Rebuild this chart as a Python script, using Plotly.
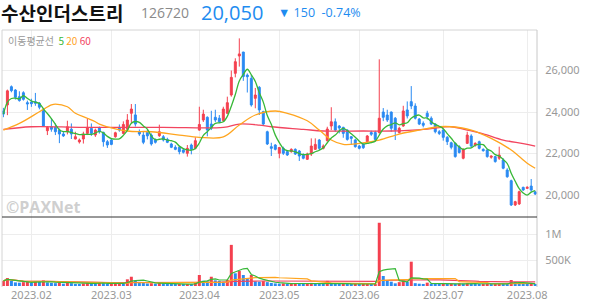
import plotly.graph_objects as go
from plotly.subplots import make_subplots
import pandas as pd

# ---------------- data ----------------
month_labels = ["2023.02", "2023.03", "2023.04", "2023.05", "2023.06", "2023.07", "2023.08"]
month_start_idx = [7, 27, 49, 69, 89, 110, 131]

opens = [24050, 24340, 25220, 25060, 24740, 24930, 24450, 24480, 24500, 24420,
         24100, 23100, 23290, 23260, 23130, 22940, 23050, 23170, 22700, 22560,
         22700, 22970, 23210, 22890, 23245, 23020, 22570, 22650, 22810, 23260,
         22970, 23170, 23940, 23860, 23050, 22890, 23010, 22890, 22680, 22860,
         22810, 22680, 22460, 22300, 22300, 22170, 22010, 22410, 22250, 23130,
         23615, 23745, 23420, 23745, 23700, 23590, 23940, 24820, 25865, 26700,
         26890, 25780, 25620, 24660, 25190, 24020, 23050, 22330, 22410, 22010,
         22250, 22090, 22090, 22200, 22120, 21930, 21720, 21975, 22200, 22650,
         22250, 22620, 23325, 23530, 23325, 23260, 23130, 22810, 22650, 22360,
         22450, 22570, 23010, 23010, 23010, 24000, 23855, 24000, 23700, 23010,
         23325, 24100, 24500, 24290, 23660, 23455, 23940, 23700, 23420, 23050,
         23130, 22780, 22520, 22490, 22330, 21770, 22490, 22845, 22400, 22570,
         22200, 22170, 21820, 21850, 21770, 21690, 21205, 20690, 19520, 19570,
         20370, 20320, 20430, 20150]
highs = [24200, 25080, 25280, 25100, 25000, 25000, 24550, 24640, 24920, 24480,
         24200, 23325, 23710, 23450, 23200, 23050, 23580, 23450, 23050, 22720,
         23050, 23710, 23450, 23200, 23300, 23050, 22650, 22720, 23050, 23400,
         23550, 23900, 24385, 24385, 23160, 23050, 23160, 22970, 22720, 23390,
         22890, 22760, 22520, 22400, 22350, 22250, 22410, 22480, 22780, 24255,
         24110, 23790, 24060, 24110, 23855, 24255, 24740, 26000, 26590, 27550,
         26900, 25860, 25780, 25160, 25250, 24060, 23100, 22520, 22450, 22310,
         22330, 22170, 22250, 22250, 22170, 22010, 22040, 22730, 22730, 22700,
         22440, 23290, 24230, 23690, 23370, 23290, 23160, 22840, 22700, 22410,
         22500, 22890, 23100, 23100, 26540, 24190, 24110, 24020, 23760, 23290,
         24300, 24510, 25250, 24420, 23710, 23550, 24060, 23790, 23455, 23130,
         23210, 22840, 22570, 22540, 22400, 22250, 23050, 22930, 22540, 22620,
         22250, 22200, 21900, 21880, 22330, 21770, 21290, 20740, 19720, 20210,
         20400, 20420, 20770, 20200]
lows = [23750, 23850, 24950, 24600, 24500, 24550, 24100, 24250, 24300, 24130,
        23280, 22890, 23050, 22890, 22500, 22800, 22920, 22700, 22680, 22480,
        22480, 22890, 22850, 22800, 22960, 22330, 22270, 22400, 22760, 23050,
        22920, 23130, 23455, 23300, 22850, 22450, 22680, 22380, 22480, 22800,
        22580, 22500, 22260, 22160, 21960, 22000, 21850, 21960, 22200, 23100,
        23520, 22830, 23130, 23520, 23470, 23520, 23910, 24740, 25670, 26190,
        25500, 24940, 24260, 24180, 23855, 23370, 22410, 21880, 22150, 21770,
        21930, 21880, 22040, 21930, 21640, 21720, 21690, 21880, 22170, 22170,
        22200, 22570, 23130, 23050, 22970, 22760, 22620, 22410, 22280, 22200,
        22220, 22540, 22850, 22620, 22960, 23560, 23520, 23050, 22650, 22960,
        23290, 23690, 24140, 23640, 23370, 23260, 23640, 23370, 22970, 22890,
        22620, 22410, 22200, 21800, 22000, 21720, 22460, 22300, 22330, 22200,
        22090, 21800, 21750, 21560, 21690, 21240, 20830, 19470, 19470, 19520,
        20200, 20290, 20160, 20000]
closes = [23900, 25020, 25030, 24710, 24550, 24610, 24390, 24400, 24420, 24230,
          23330, 23260, 23170, 23050, 22940, 22850, 23290, 22940, 22810, 22650,
          22940, 23260, 22970, 23130, 23050, 22570, 22410, 22440, 23000, 23130,
          23400, 23615, 24145, 23420, 22940, 22540, 22850, 22460, 22540, 23050,
          22650, 22540, 22300, 22200, 22090, 22060, 22250, 22200, 22620, 23400,
          23900, 23130, 23220, 23615, 23530, 24145, 24450, 25670, 26425, 26800,
          25710, 25700, 24340, 24820, 24100, 23420, 22460, 22250, 22200, 22290,
          22010, 21930, 22200, 21975, 21880, 21770, 21975, 22360, 22440, 22250,
          22360, 23180, 23530, 23130, 23230, 22970, 22680, 22730, 22330, 22250,
          22280, 22845, 22930, 22680, 23700, 23745, 23615, 23215, 23130, 23215,
          24050, 23810, 24290, 23700, 23420, 23360, 23775, 23420, 23050, 22970,
          22780, 22570, 22300, 21850, 22050, 22200, 22890, 22360, 22490, 22250,
          22135, 21850, 21880, 21610, 21930, 21290, 20880, 19520, 19680, 20160,
          20240, 20370, 20240, 20050]
volumes_k = [100, 155, 100, 70, 65, 75, 80, 60, 90, 85,
             110, 70, 60, 55, 70, 45, 65, 55, 40, 35,
             50, 70, 55, 50, 60, 55, 40, 45, 50, 60,
             55, 130, 180, 100, 80, 75, 50, 55, 45, 60,
             50, 40, 35, 30, 40, 35, 40, 30, 60, 214,
             103, 90, 180, 110, 100, 85, 120, 800, 247, 292,
             214, 156, 214, 91, 85, 95, 75, 60, 50, 45,
             50, 45, 50, 55, 45, 40, 45, 60, 55, 50,
             40, 100, 60, 50, 40, 45, 40, 35, 40, 35,
             40, 45, 35, 40, 1230, 195, 117, 84, 52, 75,
             110, 80, 473, 55, 45, 40, 65, 45, 40, 35,
             40, 35, 45, 40, 50, 45, 55, 45, 40, 35,
             40, 45, 35, 40, 50, 45, 40, 117, 80, 60,
             40, 35, 45, 30]

# moving averages (index, value)
ma20_idx = [0, 4, 9, 12, 13, 16, 18, 21, 23, 24, 31, 37, 44, 49, 55, 59, 63, 68, 71, 76,
            79, 82, 85, 89, 94, 99, 104, 109, 112, 117, 122, 127, 131, 133]
ma20_val = [23130, 23450, 24010, 24340, 24385, 24255, 23940, 23700, 23530, 23420, 23085,
            23050, 22890, 22780, 22800, 23375, 23855, 24050, 23940, 23580, 23130, 22650,
            22440, 22490, 22650, 22940, 23130, 23290, 23290, 23130, 22730, 22170, 21530, 21290]
ma60_idx = [0, 7, 20, 40, 55, 59, 64, 67, 75, 80, 90, 97, 106, 112, 116, 120, 125, 130, 133]
ma60_val = [23160, 23290, 23260, 23260, 23260, 23420, 23370, 23290, 23165, 23085, 23085,
            23085, 23180, 23290, 23130, 22950, 22650, 22480, 22360]

price_ticks = [20000, 22000, 24000, 26000]
vol_ticks = [500000, 1000000]
vol_tick_text = ["500K", "1M"]

# ---------------- styling ----------------
UP = "#f4404f"
DOWN = "#2a8af2"
C5 = "#38b838"
C20 = "#ffa51f"
C60 = "#f2455f"
GRID = "#ededed"
TICKC = "#999999"

idx = list(range(len(closes)))
volumes = [v * 1000 for v in volumes_k]
close_s = pd.Series(closes, dtype=float)
ma5 = close_s.rolling(5, min_periods=1).mean()
vol_s = pd.Series(volumes, dtype=float)
vma5 = vol_s.rolling(5, min_periods=1).mean()
vma20 = vol_s.rolling(20, min_periods=1).mean()
vma60 = vol_s.rolling(60, min_periods=1).mean()
vol_colors = [UP] + [UP if volumes[i] >= volumes[i - 1] else DOWN for i in range(1, len(volumes))]

# plot area in pixels
L, R, T, B = 2, 537, 30, 287
W, H = 594, 304
def px(x):
    return (x - L) / (R - L)
def py(y):
    return (B - y) / (B - T)

fig = make_subplots(rows=2, cols=1, shared_xaxes=True, vertical_spacing=0,
                    row_heights=[187 / 257, 70 / 257])

fig.add_trace(go.Scatter(x=ma60_idx, y=ma60_val, mode="lines", line=dict(color=C60, width=1.3, shape="spline"),
                         hoverinfo="skip", showlegend=False), row=1, col=1)
fig.add_trace(go.Scatter(x=ma20_idx, y=ma20_val, mode="lines", line=dict(color=C20, width=1.3, shape="spline"),
                         hoverinfo="skip", showlegend=False), row=1, col=1)
fig.add_trace(go.Candlestick(x=idx, open=opens, high=highs, low=lows, close=closes,
                             increasing=dict(line=dict(color=UP, width=1), fillcolor=UP),
                             decreasing=dict(line=dict(color=DOWN, width=1), fillcolor=DOWN),
                             whiskerwidth=0, showlegend=False, hoverinfo="skip"), row=1, col=1)
fig.add_trace(go.Scatter(x=idx, y=ma5, mode="lines", line=dict(color=C5, width=1.3, shape="spline"),
                         hoverinfo="skip", showlegend=False), row=1, col=1)

fig.add_trace(go.Bar(x=idx, y=volumes, marker=dict(color=vol_colors, line=dict(width=0)),
                     showlegend=False, hoverinfo="skip"), row=2, col=1)
fig.add_trace(go.Scatter(x=idx, y=vma60, mode="lines", line=dict(color=C60, width=1.2),
                         hoverinfo="skip", showlegend=False), row=2, col=1)
fig.add_trace(go.Scatter(x=idx, y=vma20, mode="lines", line=dict(color=C20, width=1.2),
                         hoverinfo="skip", showlegend=False), row=2, col=1)
fig.add_trace(go.Scatter(x=idx, y=vma5, mode="lines", line=dict(color=C5, width=1.2),
                         hoverinfo="skip", showlegend=False), row=2, col=1)

tickfont = dict(family="Noto Sans", size=11, color=TICKC)
xr = [-0.35, len(closes) - 0.55]
fig.update_xaxes(range=xr, tickmode="array", tickvals=month_start_idx, ticktext=month_labels,
                 showgrid=True, gridcolor=GRID, gridwidth=1, zeroline=False, showline=False,
                 rangeslider_visible=False, tickfont=tickfont, ticks="", fixedrange=True)
fig.update_xaxes(showticklabels=False, row=1, col=1)
fig.update_xaxes(showticklabels=True, row=2, col=1)

fig.update_yaxes(range=[18940, 27953], side="right", tickmode="array", tickvals=price_ticks,
                 tickformat=",", showgrid=True, gridcolor=GRID, zeroline=False, showline=False,
                 tickfont=tickfont, ticks="outside", ticklen=5, tickcolor="rgba(0,0,0,0)", row=1, col=1)
fig.update_yaxes(range=[-19455, 1342000], side="right", tickmode="array", tickvals=vol_ticks,
                 ticktext=vol_tick_text, showgrid=True, gridcolor=GRID, zeroline=False, showline=False,
                 tickfont=tickfont, ticks="outside", ticklen=5, tickcolor="rgba(0,0,0,0)", row=2, col=1)

shapes = [
    dict(type="line", xref="paper", yref="paper", x0=0, x1=1, y0=1, y1=1, line=dict(color="#d4d4d4", width=1)),
    dict(type="line", xref="paper", yref="paper", x0=0, x1=0, y0=0, y1=1, line=dict(color="#d4d4d4", width=1)),
    dict(type="line", xref="paper", yref="paper", x0=1, x1=1, y0=0, y1=1, line=dict(color="#c8c8c8", width=1)),
    dict(type="line", xref="paper", yref="paper", x0=0, x1=1, y0=70 / 257, y1=70 / 257, line=dict(color="#333333", width=1)),
]

annotations = [
    dict(text="<b>수산인더스트리</b>", x=px(-1), y=py(12.5), xref="paper", yref="paper", xanchor="left",
         yanchor="middle", showarrow=False, font=dict(family="Noto Sans CJK KR", size=19, color="#111111")),
    dict(text="126720", x=px(139), y=py(12.5), xref="paper", yref="paper", xanchor="left",
         yanchor="middle", showarrow=False, font=dict(family="Open Sans", size=14, color="#8a8a8a")),
    dict(text="20,050", x=px(199), y=py(12), xref="paper", yref="paper", xanchor="left",
         yanchor="middle", showarrow=False, font=dict(family="Open Sans", size=20, color="#1e8cf0")),
    dict(text="▼ 150  -0.74%", x=px(276), y=py(12.5), xref="paper", yref="paper", xanchor="left",
         yanchor="middle", showarrow=False, font=dict(family="Open Sans", size=12.5, color="#1e8cf0")),
    dict(text="<span style='color:#999999'>이동평균선</span>  <span style='color:%s'>5</span> "
              "<span style='color:%s'>20</span> <span style='color:%s'>60</span>" % (C5, C20, C60),
         x=px(6), y=py(41), xref="paper", yref="paper", xanchor="left", yanchor="middle", showarrow=False,
         font=dict(family="Noto Sans CJK KR", size=10, color="#999999")),
    dict(text="<b>©PAXNet</b>", x=px(4), y=py(207), xref="paper", yref="paper", xanchor="left",
         yanchor="middle", showarrow=False, font=dict(family="Open Sans", size=16, color="#cfcfcf")),
]

fig.update_layout(width=W, height=H, margin=dict(l=L, r=W - R, t=T, b=H - B),
                  paper_bgcolor="white", plot_bgcolor="white", showlegend=False,
                  bargap=0.25, shapes=shapes, annotations=annotations, hovermode=False)

fig.write_html("out.html")
